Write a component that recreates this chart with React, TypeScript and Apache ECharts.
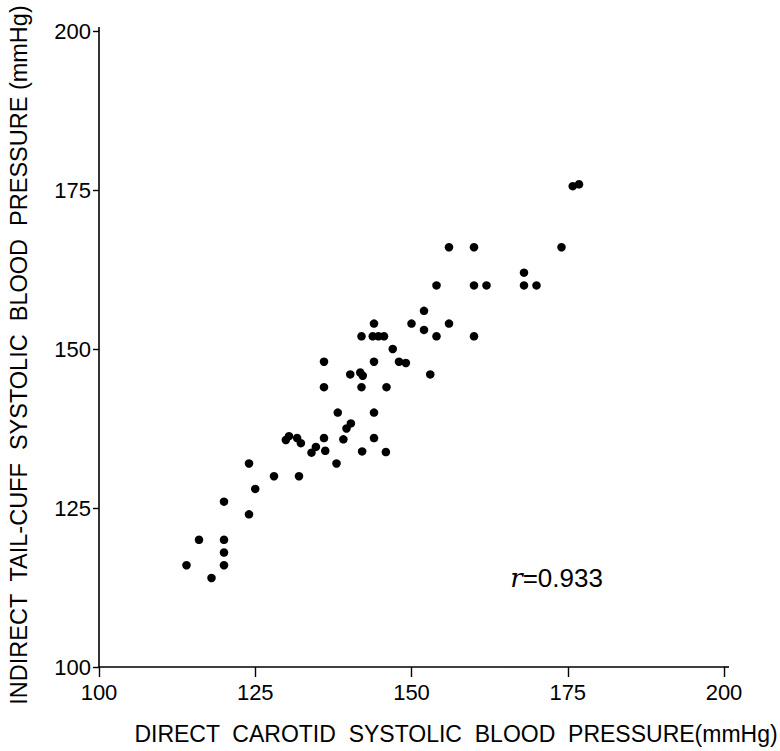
import React, { useEffect, useRef } from "react";
import * as echarts from "echarts";

// Direct carotid systolic BP (mmHg)
const directBP = [
  114, 116, 118, 120, 120, 120, 120, 124, 124, 125,
  128, 132, 129.9, 130.4, 131.7, 132.3, 134.0, 134.7, 136, 136.2,
  138, 139.1, 139.6, 140.3, 138.2, 144, 144, 142.1, 145.9, 136,
  142, 146, 140.2, 141.8, 142.2, 136, 144, 148, 149.1, 147,
  142, 143.8, 144.7, 145.6, 144, 150, 152, 152, 154, 156,
  153, 160, 154, 156, 160, 160, 162, 168, 168, 170,
  174, 175.8, 176.8,
];
// Indirect tail-cuff systolic BP (mmHg)
const indirectBP = [
  116, 120, 114, 126, 120, 118, 116, 132, 124, 128,
  130, 130, 135.7, 136.3, 136.0, 135.2, 133.7, 134.6, 136, 134,
  132, 135.8, 137.5, 138.3, 140, 136, 140, 133.9, 133.8, 144,
  144, 144, 146, 146.3, 145.8, 148, 148, 148, 147.8, 150,
  152, 152, 152, 152, 154, 154, 153, 156, 152, 154,
  146, 152, 160, 166, 166, 160, 160, 162, 160, 160,
  166, 175.6, 175.9,
];
const axisTicks = [100, 125, 150, 175, 200];
const xTitle = "DIRECT  CAROTID  SYSTOLIC  BLOOD  PRESSURE(mmHg)";
const yTitle = "INDIRECT  TAIL-CUFF  SYSTOLIC  BLOOD  PRESSURE (mmHg)";
const corrLabel = "0.933";

const FONT = "Liberation Sans";

export default function App() {
  const ref = useRef<HTMLDivElement>(null);
  useEffect(() => {
    document.body.style.margin = "0";
    if (!ref.current) return;
    const chart = echarts.init(ref.current, null, { renderer: "svg" });
    const points = directBP.map((x, i) => [x, indirectBP[i]]);
    chart.setOption({
      animation: false,
      backgroundColor: "#ffffff",
      grid: { left: 99, right: 56, top: 31, bottom: 84, containLabel: false },
      xAxis: {
        type: "value",
        min: axisTicks[0],
        max: axisTicks[axisTicks.length - 1],
        interval: 25,
        splitLine: { show: false },
        axisLine: { show: true, lineStyle: { color: "#000", width: 1.6 } },
        axisTick: { show: true, length: 10, lineStyle: { color: "#000", width: 1.4 } },
        axisLabel: {
          color: "#000",
          fontFamily: FONT,
          fontSize: 22,
          margin: 14,
        },
      },
      yAxis: {
        type: "value",
        min: axisTicks[0],
        max: axisTicks[axisTicks.length - 1],
        interval: 25,
        splitLine: { show: false },
        axisLine: { show: true, lineStyle: { color: "#000", width: 1.6 } },
        axisTick: { show: true, length: 6, lineStyle: { color: "#000", width: 1.4 } },
        axisLabel: {
          color: "#000",
          fontFamily: FONT,
          fontSize: 22,
          margin: 8,
        },
      },
      series: [
        {
          type: "scatter",
          data: points,
          symbol: "circle",
          symbolSize: 8.5,
          itemStyle: { color: "#000", opacity: 1 },
        },
      ],
    });
    const [x0, y0] = chart.convertToPixel({ gridIndex: 0 }, [100, 100]) as number[];
    const [x1, y1] = chart.convertToPixel({ gridIndex: 0 }, [200, 200]) as number[];
    const [ax, ay] = chart.convertToPixel({ gridIndex: 0 }, [165.8, 114]) as number[];
    chart.setOption({
      graphic: [
        {
          type: "line",
          shape: { x1: x1, y1: y0, x2: x1 + 5, y2: y0 },
          style: { stroke: "#000", lineWidth: 1.6 },
        },
        {
          type: "line",
          shape: { x1: x0, y1: y1, x2: x0, y2: y1 - 4 },
          style: { stroke: "#000", lineWidth: 1.6 },
        },
        {
          type: "text",
          x: 456,
          y: 734,
          style: {
            text: xTitle,
            font: `23px "${FONT}"`,
            fill: "#000",
            align: "center",
            verticalAlign: "middle",
          },
        },
        {
          type: "text",
          x: 19,
          y: 355,
          rotation: Math.PI / 2,
          style: {
            text: yTitle,
            font: `23.5px "${FONT}"`,
            fill: "#000",
            align: "center",
            verticalAlign: "middle",
          },
        },
        {
          type: "text",
          x: ax,
          y: ay,
          style: {
            text: "{r|r}{t|=" + corrLabel + "}",
            verticalAlign: "middle",
            align: "left",
            rich: {
              r: { font: `italic 26px "DejaVu Serif"`, fill: "#000" },
              t: { font: `26px "${FONT}"`, fill: "#000" },
            },
          },
        },
      ],
    });
    return () => chart.dispose();
  }, []);
  return <div ref={ref} style={{ width: 780, height: 751 }} />;
}
